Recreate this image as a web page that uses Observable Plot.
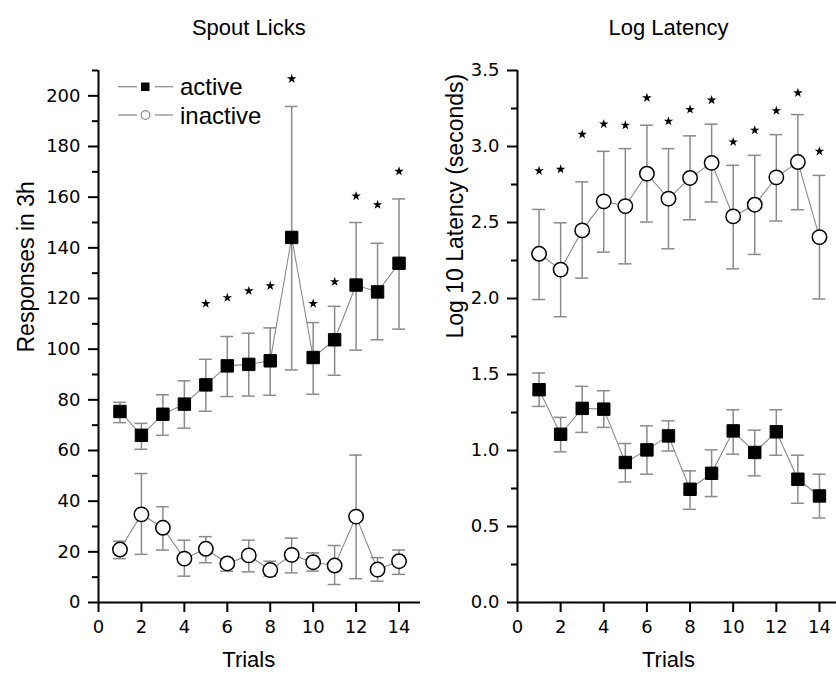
<!DOCTYPE html>
<html><head><meta charset="utf-8">
<script src="https://cdn.jsdelivr.net/npm/d3@7"></script>
<script src="https://cdn.jsdelivr.net/npm/@observablehq/plot@0.6"></script>
<style>
body{margin:0;background:#fff;}
#wrap{position:relative;width:836px;height:680px;overflow:hidden;font-family:"Liberation Sans",Arial,sans-serif;}
#left{position:absolute;left:0;top:0;}
#right{position:absolute;left:425px;top:0;}
#legend{position:absolute;left:100px;top:65px;}
</style></head><body>
<div id="wrap"><div id="left"></div><div id="right"></div>
<svg id="legend" width="200" height="70" font-family="Liberation Sans, Arial, sans-serif">
  <line x1="18" x2="37" y1="21.7" y2="21.7" stroke="#888" stroke-width="1.2"/>
  <line x1="55" x2="73" y1="21.7" y2="21.7" stroke="#888" stroke-width="1.2"/>
  <rect x="41" y="17.5" width="8.5" height="8.5" fill="#000"/>
  <text x="80" y="30" font-size="24">active</text>
  <line x1="18" x2="37" y1="50" y2="50" stroke="#888" stroke-width="1.2"/>
  <line x1="55" x2="73" y1="50" y2="50" stroke="#888" stroke-width="1.2"/>
  <circle cx="45.5" cy="50" r="4.3" fill="#fff" stroke="#888" stroke-width="1.2"/>
  <text x="80" y="58.5" font-size="24">inactive</text>
</svg>
</div>
<script>
const trials = [1,2,3,4,5,6,7,8,9,10,11,12,13,14];

// Spout Licks
const licksActive   = [75.4, 66, 74.3, 78.3, 85.9, 93.4, 94, 95.4, 144.1, 96.7, 103.7, 125.3, 122.6, 133.9];
const licksActiveHi = [79, 70.7, 82, 87.5, 96, 105, 106.3, 108.4, 195.8, 110.5, 116.9, 150, 141.8, 159.3];
const licksActiveLo = [71, 60.5, 66, 68.8, 75.5, 81.3, 81.5, 81.8, 91.8, 82.2, 89.7, 99.6, 103.7, 107.9];
const licksInactive   = [20.9, 34.8, 29.5, 17.3, 21.2, 15.4, 18.6, 12.8, 18.8, 15.9, 14.6, 33.9, 13, 16.3];
const licksInactiveHi = [24.2, 50.9, 37.8, 24.6, 26, 17.3, 24.6, 16.3, 25.4, 19.6, 22.5, 58.2, 17.7, 20.7];
const licksInactiveLo = [17.3, 19, 20.7, 10.4, 15.7, 12.4, 12.1, 10.4, 11.7, 12.4, 7.1, 9.4, 8.4, 11.1];
const licksStarTrials = [5,6,7,8,9,10,11,12,13,14];
const licksStarY = [118, 120.3, 123, 125, 206.7, 118, 126.6, 160.4, 157, 170.2];

// Log Latency
const latActive   = [1.4, 1.107, 1.277, 1.272, 0.921, 1.004, 1.096, 0.745, 0.85, 1.129, 0.987, 1.123, 0.811, 0.701];
const latActiveHi = [1.51, 1.218, 1.422, 1.393, 1.046, 1.162, 1.195, 0.866, 1.004, 1.268, 1.134, 1.268, 0.969, 0.844];
const latActiveLo = [1.29, 0.991, 1.119, 1.152, 0.793, 0.844, 0.997, 0.613, 0.697, 0.976, 0.833, 0.969, 0.653, 0.556];
const latInactive   = [2.294, 2.19, 2.448, 2.639, 2.608, 2.821, 2.657, 2.793, 2.892, 2.54, 2.617, 2.797, 2.898, 2.404];
const latInactiveHi = [2.586, 2.498, 2.767, 2.968, 2.986, 3.14, 2.986, 3.07, 3.147, 2.876, 2.942, 3.078, 3.21, 2.81];
const latInactiveLo = [1.993, 1.88, 2.134, 2.305, 2.228, 2.503, 2.327, 2.518, 2.635, 2.195, 2.29, 2.51, 2.584, 1.997];
const latStarTrials = [1,2,3,4,5,6,7,8,9,10,11,12,13,14];
const latStarY = [2.84, 2.85, 3.08, 3.147, 3.14, 3.32, 3.166, 3.243, 3.305, 3.03, 3.107, 3.235, 3.353, 2.968];

const xTicks = [0,2,4,6,8,10,12,14];
const licksMajor = d3.range(0, 201, 20);
const licksMinor = d3.range(10, 211, 20);
const latMajor = [0, 0.5, 1, 1.5, 2, 2.5, 3, 3.5];
const latMinor = [0.25, 0.75, 1.25, 1.75, 2.25, 2.75, 3.25];

function makePanel(o) {
  const rows = (v, lo, hi) => trials.map((t, i) => ({t, v: v[i], lo: lo[i], hi: hi[i]}));
  const act = rows(o.act, o.actLo, o.actHi);
  const ina = rows(o.ina, o.inaLo, o.inaHi);
  const all = act.concat(ina);
  const stars = o.starT.map((t, i) => ({t, y: o.starY[i]}));
  const gray = "#8a8a8a";
  const font = "Liberation Sans, Arial, sans-serif";
  const tickFont = "DejaVu Sans, Liberation Sans, sans-serif";
  return Plot.plot({
    width: o.width, height: 680,
    marginLeft: o.ml, marginRight: o.mr, marginTop: 70, marginBottom: 78,
    x: {domain: o.xDomain},
    y: {domain: o.yDomain},
    style: {fontFamily: font, fontSize: "18px", color: "#000", background: "transparent", overflow: "visible"},
    marks: [
      Plot.ruleX(all, {x: "t", y1: "lo", y2: "hi", stroke: gray, strokeWidth: 1.5}),
      Plot.ruleY(all, {y: "hi", x1: d => d.t - 0.3, x2: d => d.t + 0.3, stroke: gray, strokeWidth: 1.5}),
      Plot.ruleY(all, {y: "lo", x1: d => d.t - 0.3, x2: d => d.t + 0.3, stroke: gray, strokeWidth: 1.5}),
      Plot.line(act, {x: "t", y: "v", stroke: gray, strokeWidth: 1.1}),
      Plot.line(ina, {x: "t", y: "v", stroke: gray, strokeWidth: 1.1}),
      Plot.dot(act, {x: "t", y: "v", symbol: "square", r: 7, fill: "#000", stroke: "#000", strokeWidth: 1}),
      Plot.dot(ina, {x: "t", y: "v", r: 7.2, fill: "#fff", stroke: "#000", strokeWidth: 1.5}),
      Plot.dot(stars, {x: "t", y: "y", symbol: "star", r: 3, fill: "#000", stroke: "none"}),
      Plot.axisY(o.minor, {tickSize: 6, tickFormat: () => "", strokeWidth: 2, label: null}),
      Plot.axisY(o.major, {tickSize: 10, tickPadding: 8, fontSize: 18, fontFamily: tickFont, strokeWidth: 2, label: null, tickFormat: o.fmt}),
      Plot.axisX(xTicks, {tickSize: 10, tickPadding: 8, fontSize: 18, fontFamily: tickFont, strokeWidth: 2, label: null}),
      Plot.ruleX([0], {stroke: "#000", strokeWidth: 2}),
      Plot.ruleY([0], {stroke: "#000", strokeWidth: 2}),
      Plot.text([o.title], {x: () => 7, frameAnchor: "top", dy: -51, text: d => d, fontSize: 22}),
      Plot.text(["Trials"], {x: () => 7, frameAnchor: "bottom", dy: 64, text: d => d, fontSize: 22}),
      Plot.text([o.ylabel], {frameAnchor: "left", dx: o.ylDx, dy: o.ylDy, rotate: -90, text: d => d, fontSize: 23})
    ]
  });
}

document.getElementById("left").append(makePanel({
  width: 425, ml: 98, mr: 5, xDomain: [0, 15], yDomain: [0, 210],
  act: licksActive, actLo: licksActiveLo, actHi: licksActiveHi,
  ina: licksInactive, inaLo: licksInactiveLo, inaHi: licksInactiveHi,
  starT: licksStarTrials, starY: licksStarY,
  major: licksMajor, minor: licksMinor, fmt: d => String(d),
  title: "Spout Licks", ylabel: "Responses in 3h", ylDx: -72, ylDy: 16
}));

document.getElementById("right").append(makePanel({
  width: 411, ml: 92, mr: 0, xDomain: [0, 14.79], yDomain: [0, 3.5],
  act: latActive, actLo: latActiveLo, actHi: latActiveHi,
  ina: latInactive, inaLo: latInactiveLo, inaHi: latInactiveHi,
  starT: latStarTrials, starY: latStarY,
  major: latMajor, minor: latMinor, fmt: d3.format(".1f"),
  title: "Log Latency", ylabel: "Log 10 Latency (seconds)", ylDx: -62, ylDy: 2
}));
</script>
</body></html>
